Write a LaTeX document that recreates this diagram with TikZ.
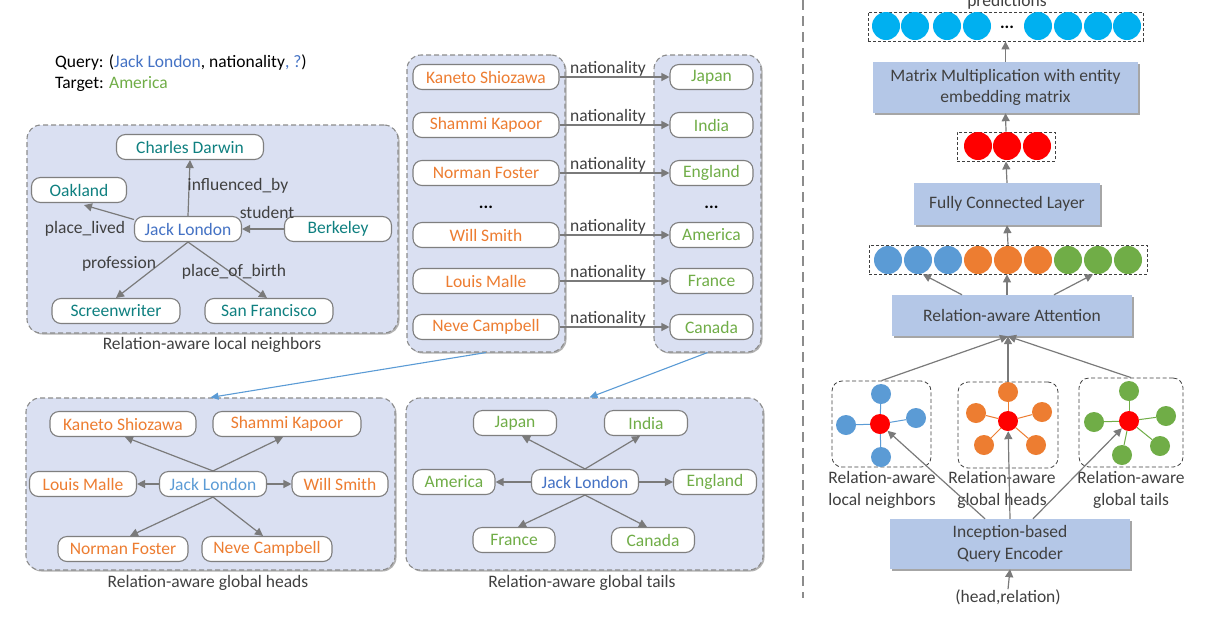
\documentclass[tikz,border=0pt]{standalone}
\usepackage{fontspec}
\setmainfont{Carlito}
\usetikzlibrary{arrows.meta,shadows,calc}
\definecolor{grpfill}{HTML}{DAE0F2}
\definecolor{grpline}{HTML}{8C8C8C}
\definecolor{entline}{HTML}{7F7F7F}
\definecolor{arrgray}{HTML}{7A7A7A}
\definecolor{labgray}{HTML}{404040}
\definecolor{orangeT}{HTML}{ED7D31}
\definecolor{greenT}{HTML}{70AD47}
\definecolor{tealT}{HTML}{0F8080}
\definecolor{blueT}{HTML}{4472C4}
\definecolor{lblueT}{HTML}{5B9BD5}
\definecolor{blkfill}{HTML}{B4C7E7}
\definecolor{cyanC}{HTML}{00B0F0}
\definecolor{blueC}{HTML}{5B9BD5}
\definecolor{orangeC}{HTML}{ED7D31}
\definecolor{greenC}{HTML}{70AD47}
\definecolor{redC}{HTML}{FF0000}
\definecolor{bluearr}{HTML}{5B9BD5}
\tikzset{
  grp/.style={draw=grpline, dash pattern=on 5pt off 3pt, line width=1.1pt, fill=grpfill,
    rounded corners=14pt, inner sep=0pt,
    drop shadow={shadow xshift=1.5pt, shadow yshift=-1.5pt, opacity=0.3, fill=black}},
  ent/.style={draw=entline, line width=1.1pt, fill=white, rounded corners=9pt,
    minimum height=25pt, inner sep=0pt},
  arr/.style={draw=arrgray, line width=1.2pt, -{Triangle[length=8pt,width=8pt]}},
  barr/.style={draw=bluearr, line width=1.1pt, -{Triangle[length=8pt,width=7pt]}},
  elab/.style={text=labgray, inner sep=0pt},
  captxt/.style={text=labgray, inner sep=0pt},
  blk/.style={fill=blkfill, inner sep=0pt, align=center, text=labgray,
    drop shadow={shadow xshift=1.5pt, shadow yshift=-1.5pt, opacity=0.35, fill=black}},
  rowbox/.style={draw=black!75, dash pattern=on 3pt off 2pt, line width=0.8pt, fill=white, inner sep=0pt},
  gbox/.style={draw=black!75, dash pattern=on 4pt off 2.5pt, line width=0.8pt, fill=white,
    rounded corners=10pt, inner sep=0pt},
  bigdot/.style={circle, minimum size=28pt, inner sep=0pt},
  smdot/.style={circle, minimum size=20pt, inner sep=0pt},
  divider/.style={draw=grpline, line width=1.4pt, dash pattern=on 10pt off 6pt},
}
\begin{document}
\begin{tikzpicture}[x=1pt,y=-1pt,font=\fontsize{17.5}{21}\selectfont]
\useasboundingbox (0,0) rectangle (1205,630);

% ---------- query text ----------
\node[anchor=west, inner sep=0pt] (qry) at (55,63) {Query: (\textcolor{blueT}{Jack London}, nationality\textcolor{blueT}{, ?})};
\node[anchor=west, inner sep=0pt] (tgt) at (55,84) {Target: \textcolor{greenT}{America}};

% ---------- group boxes ----------
\node[grp, minimum width=371pt, minimum height=208pt] (b1) at (212.5,229) {};
\node[grp, minimum width=158pt, minimum height=297pt] (b2) at (486,203.5) {};
\node[grp, minimum width=107pt, minimum height=297pt] (b3) at (707.5,203.5) {};
\node[grp, minimum width=369pt, minimum height=172pt] (b4) at (210.5,484) {};
\node[grp, minimum width=357pt, minimum height=172pt] (b5) at (584.5,484) {};

\node[captxt] (c1) at (212,345) {Relation-aware local neighbors};
\node[captxt] (c4) at (208,583) {Relation-aware global heads};
\node[captxt] (c5) at (582,583) {Relation-aware global tails};

% ---------- local neighbors ----------
\node[ent, minimum width=147pt, text=tealT] (cd) at (190,147) {Charles Darwin};
\node[ent, minimum width=95pt, text=tealT] (oak) at (79,190) {Oakland};
\node[ent, minimum width=107pt, text=blueT] (jl1) at (188,229) {Jack London};
\node[ent, minimum width=107pt, text=tealT] (berk) at (338,229) {Berkeley};
\node[ent, minimum width=128pt, text=tealT] (sw) at (116,311) {Screenwriter};
\node[ent, minimum width=128pt, text=tealT] (sf) at (269,311) {San Francisco};

\draw[arr] (jl1.north) -- (cd.south);
\draw[arr] (jl1.170) -- ($(oak.south)+(5,2)$);
\draw[arr] (berk.west) -- (jl1.east);
\draw[arr] (jl1.south) -- (sw.north);
\draw[arr] (jl1.south) -- ($(sf.north)+(-2,0)$);

\node[elab] (l1) at (238,186) {influenced\_by};
\node[elab] (l2) at (267,212) {student};
\node[elab] (l3) at (85,229) {place\_lived};
\node[elab] (l4) at (119,264) {profession};
\node[elab] (l5) at (234,272) {place\_of\_birth};

% ---------- heads / tails columns ----------
\node[ent, minimum width=146pt, text=orangeT] (h1) at (486,77) {Kaneto Shiozawa};
\node[ent, minimum width=146pt, text=orangeT] (h2) at (486,125) {Shammi Kapoor};
\node[ent, minimum width=146pt, text=orangeT] (h3) at (486,173) {Norman Foster};
\node[inner sep=0pt, anchor=base] (hd) at (486,208) {\textbf{...}};
\node[ent, minimum width=146pt, text=orangeT] (h4) at (486,235) {Will Smith};
\node[ent, minimum width=146pt, text=orangeT] (h5) at (486,281) {Louis Malle};
\node[ent, minimum width=146pt, text=orangeT] (h6) at (486,327) {Neve Campbell};

\node[ent, minimum width=83pt, text=greenT] (t1) at (711.5,77) {Japan};
\node[ent, minimum width=83pt, text=greenT] (t2) at (711.5,125) {India};
\node[ent, minimum width=83pt, text=greenT] (t3) at (711.5,173) {England};
\node[inner sep=0pt, anchor=base] (td) at (711.5,208) {\textbf{...}};
\node[ent, minimum width=83pt, text=greenT] (t4) at (711.5,235) {America};
\node[ent, minimum width=83pt, text=greenT] (t5) at (711.5,281) {France};
\node[ent, minimum width=83pt, text=greenT] (t6) at (711.5,327) {Canada};

\foreach \i/\y in {1/69,2/117,3/165,4/227,5/273,6/319}{
  \draw[arr] (h\i.east) -- (t\i.west);
  \node[elab] (n\i) at (608,\y) {nationality};
}

\draw[barr] (b2.south) -- (b4.north);
\draw[barr] (b3.south) -- ($(b5.north)+(5,0)$);

% ---------- global heads ----------
\node[ent, minimum width=146pt, text=orangeT] (k2) at (123,424) {Kaneto Shiozawa};
\node[ent, minimum width=148pt, text=orangeT] (s2) at (287,424) {Shammi Kapoor};
\node[ent, minimum width=107pt, text=orangeT] (lm) at (83,484) {Louis Malle};
\node[ent, minimum width=107pt, text=lblueT] (jl2) at (213,484) {Jack London};
\node[ent, minimum width=96pt, text=orangeT] (ws) at (340,484) {Will Smith};
\node[ent, minimum width=130pt, text=orangeT] (nf) at (123,549) {Norman Foster};
\node[ent, minimum width=130pt, text=orangeT] (nc) at (267,549) {Neve Campbell};

\draw[arr] (jl2.north) -- ($(k2.south)+(2,0)$);
\draw[arr] (jl2.north) -- ($(s2.south)+(-4,0)$);
\draw[arr] (jl2.west) -- (lm.east);
\draw[arr] (jl2.east) -- (ws.west);
\draw[arr] (jl2.south) -- ($(nf.north)+(7,0)$);
\draw[arr] (jl2.south) -- ($(nc.north)+(-4,0)$);

% ---------- global tails ----------
\node[ent, minimum width=83pt, text=greenT] (jp) at (515,423) {Japan};
\node[ent, minimum width=83pt, text=greenT] (ind) at (646,423) {India};
\node[ent, minimum width=82pt, text=greenT] (am) at (454,482) {America};
\node[ent, minimum width=107pt, text=blueT] (jl3) at (585,482) {Jack London};
\node[ent, minimum width=83pt, text=greenT] (en) at (715,482) {England};
\node[ent, minimum width=82pt, text=greenT] (fr) at (514,540) {France};
\node[ent, minimum width=83pt, text=greenT] (ca) at (653,540) {Canada};

\draw[arr] (jl3.north) -- ($(jp.south)+(7,0)$);
\draw[arr] (jl3.north) -- ($(ind.south)+(-6,0)$);
\draw[arr] (jl3.west) -- (am.east);
\draw[arr] (jl3.east) -- (en.west);
\draw[arr] (jl3.south) -- ($(fr.north)+(4,0)$);
\draw[arr] (jl3.south) -- ($(ca.north)+(-6,0)$);

% ---------- divider ----------
\coordinate (dvT) at (803,0);
\coordinate (dvB) at (803,598);
\draw[divider] (dvT) -- (dvB);

% ---------- right pipeline ----------
\node[inner sep=0pt, anchor=base, text=labgray] (predlab) at (1007,6.5) {predictions};
\node[rowbox, minimum width=275pt, minimum height=29pt] (prrow) at (1005.5,26.5) {};
\foreach \x [count=\k] in {886,915,947,977,1038,1068,1098,1127}{
  \node[bigdot, fill=cyanC] (p\k) at (\x,26) {};
}
\node[inner sep=0pt, anchor=base] (pdots) at (1007,28.5) {\textbf{...}};

\node[blk, minimum width=265pt, minimum height=51pt] (mm) at (1005.5,87.5) {Matrix Multiplication with entity\\embedding matrix};

\node[rowbox, minimum width=98pt, minimum height=29pt] (rrow) at (1006,146.5) {};
\foreach \x [count=\k] in {978,1007,1037}{
  \node[bigdot, fill=redC] (r\k) at (\x,146) {};
}

\node[blk, minimum width=186pt, minimum height=42pt] (fc) at (1007,204) {Fully Connected Layer};

\node[rowbox, minimum width=278pt, minimum height=29pt] (crow) at (1008,259.5) {};
\foreach \x/\c [count=\k] in {888/blueC,918/blueC,948/blueC,978/orangeC,1008/orangeC,1038/orangeC,1068/greenC,1098/greenC,1128/greenC}{
  \node[bigdot, fill=\c] (q\k) at (\x,260) {};
}

\node[blk, minimum width=240pt, minimum height=41pt] (att) at (1012,315.5) {Relation-aware Attention};

\draw[arr] (mm.north) -- (prrow.south);
\draw[arr] (rrow.north) -- (mm.south);
\draw[arr] (fc.north) -- (rrow.south);
\draw[arr] (crow.north) -- (fc.south);
\draw[arr] ($(att.north)+(-50,0)$) -- ($(crow.south)+(-85,0)$);
\draw[arr] ($(att.north)+(-5,0)$) -- ($(crow.south)+(-1,0)$);
\draw[arr] ($(att.north)+(42,0)$) -- ($(crow.south)+(85,0)$);

% small graphs
\node[gbox, minimum width=99pt, minimum height=86pt] (gA) at (881.5,424) {};
\node[gbox, minimum width=100pt, minimum height=86pt] (gB) at (1008,425) {};
\node[gbox, minimum width=104pt, minimum height=89pt] (gC) at (1131,422.5) {};

\node[smdot, fill=redC] (rA) at (880,424) {};
\node[smdot, fill=blueC] (a1) at (881,394) {};
\node[smdot, fill=blueC] (a2) at (846,425) {};
\node[smdot, fill=blueC] (a3) at (916,418) {};
\node[smdot, fill=blueC] (a4) at (881,457) {};
\foreach \k in {1,...,4}{ \draw[blueC, line width=1pt] (rA) -- (a\k); }

\node[smdot, fill=redC] (rB) at (1008,421) {};
\node[smdot, fill=orangeC] (o1) at (1008,392) {};
\node[smdot, fill=orangeC] (o2) at (976,413) {};
\node[smdot, fill=orangeC] (o3) at (1042,412) {};
\node[smdot, fill=orangeC] (o4) at (984,445) {};
\node[smdot, fill=orangeC] (o5) at (1036,445) {};
\foreach \k in {1,...,5}{ \draw[orangeC, line width=1pt] (rB) -- (o\k); }

\node[smdot, fill=redC] (rC) at (1129,421) {};
\node[smdot, fill=greenC] (e1) at (1129,391) {};
\node[smdot, fill=greenC] (e2) at (1094,422) {};
\node[smdot, fill=greenC] (e3) at (1166,416) {};
\node[smdot, fill=greenC] (e4) at (1122,455) {};
\node[smdot, fill=greenC] (e5) at (1160,446) {};
\foreach \k in {1,...,5}{ \draw[greenC, line width=1pt] (rC) -- (e\k); }

\node[inner sep=0pt, align=center, text=labgray, font=\fontsize{17.5}{22}\selectfont] (lA) at (882,490) {Relation-aware\\local neighbors};
\node[inner sep=0pt, align=center, text=labgray, font=\fontsize{17.5}{22}\selectfont] (lB) at (1002,490) {Relation-aware\\global heads};
\node[inner sep=0pt, align=center, text=labgray, font=\fontsize{17.5}{22}\selectfont] (lC) at (1131,490) {Relation-aware\\global tails};

\node[blk, minimum width=240pt, minimum height=50pt, font=\fontsize{17.5}{22}\selectfont] (inc) at (1010,544) {Inception-based\\Query Encoder};

\draw[arr] (gA.north) -- ($(att.south)+(-4,0)$);
\draw[arr] (gB.north) -- ($(att.south)+(-4,0)$);
\draw[arr] (gC.north) -- ($(att.south)+(-4,0)$);

\draw[arr] ($(inc.north)+(-25,0)$) -- (rA);
\draw[arr] (inc.north) -- (rB);
\draw[arr] ($(inc.north)+(23,0)$) -- (rC);

\node[inner sep=0pt, text=labgray] (hr) at (1008,597) {(head,relation)};
\draw[arr] (hr.north) -- (inc.south);
\end{tikzpicture}
\end{document}
